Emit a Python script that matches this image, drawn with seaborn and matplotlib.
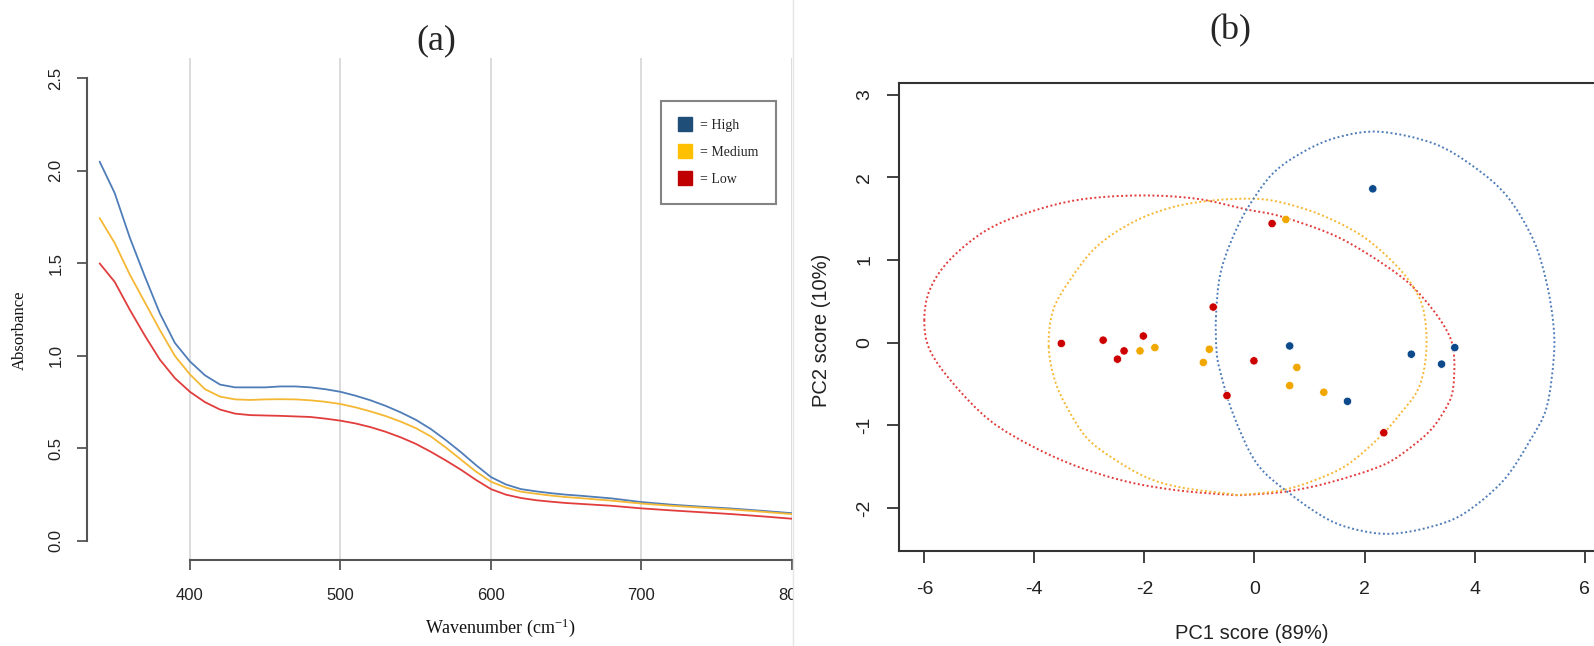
import numpy as np
import pandas as pd
import matplotlib
matplotlib.use("Agg")
import matplotlib.pyplot as plt
import seaborn as sns
from matplotlib.lines import Line2D
from matplotlib.path import Path
from matplotlib.patches import PathPatch
from matplotlib.transforms import Bbox, TransformedBbox

# ---------------- data: panel (a) ----------------
wavenumber = [340, 350, 360, 370, 380, 390, 400, 410, 420, 430, 440, 450, 460, 470, 480, 490,
              500, 510, 520, 530, 540, 550, 560, 570, 580, 590, 600, 610, 620, 630, 640, 650,
              660, 680, 700, 720, 740, 760, 780, 800]
abs_high = [2.05, 1.88, 1.64, 1.43, 1.23, 1.07, 0.97, 0.895, 0.845, 0.83, 0.83, 0.83, 0.835, 0.835,
            0.83, 0.82, 0.806, 0.785, 0.76, 0.73, 0.695, 0.655, 0.605, 0.545, 0.48, 0.41, 0.345,
            0.305, 0.28, 0.268, 0.258, 0.25, 0.244, 0.23, 0.21, 0.196, 0.185, 0.175, 0.163, 0.15]
abs_medium = [1.745, 1.61, 1.44, 1.29, 1.14, 1.00, 0.90, 0.82, 0.78, 0.765, 0.762, 0.765, 0.766,
              0.765, 0.76, 0.752, 0.74, 0.722, 0.70, 0.675, 0.645, 0.61, 0.565, 0.505, 0.44, 0.375,
              0.32, 0.288, 0.266, 0.255, 0.245, 0.237, 0.231, 0.218, 0.202, 0.19, 0.18, 0.17,
              0.158, 0.145]
abs_low = [1.50, 1.40, 1.25, 1.11, 0.98, 0.88, 0.806, 0.75, 0.71, 0.688, 0.68, 0.678, 0.676, 0.673,
           0.67, 0.661, 0.65, 0.635, 0.615, 0.59, 0.56, 0.525, 0.482, 0.435, 0.385, 0.33, 0.28,
           0.25, 0.232, 0.22, 0.212, 0.205, 0.20, 0.19, 0.176, 0.165, 0.155, 0.145, 0.133, 0.12]
groups = ["High", "Medium", "Low"]
legend_labels = ["= High", "= Medium", "= Low"]
a_xticks = [400, 500, 600, 700, 800]
a_yticks = [0.0, 0.5, 1.0, 1.5, 2.0, 2.5]

# ---------------- data: panel (b) ----------------
pc1_high = [2.15, 0.64, 2.85, 3.40, 3.64, 1.69]
pc2_high = [1.86, -0.04, -0.14, -0.26, -0.06, -0.71]
pc1_medium = [0.57, -2.08, -1.81, -0.82, -0.93, 0.77, 0.64, 1.26]
pc2_medium = [1.49, -0.10, -0.06, -0.08, -0.24, -0.30, -0.52, -0.60]
pc1_low = [0.32, -0.75, -3.51, -2.75, -2.02, -2.37, -2.49, -0.01, -0.50, 2.35]
pc2_low = [1.44, 0.43, -0.01, 0.03, 0.08, -0.10, -0.20, -0.22, -0.64, -1.09]

# outlines of the confidence regions (closed: first point repeated at the end)
ell_low_x = [-6.00, -5.90, -5.54, -4.87, -4.08, -3.17, -2.08, -1.05, -0.14, 0.46, 1.37, 2.04, 2.77,
             3.25, 3.55, 3.63, 3.61, 3.52, 3.25, 2.89, 2.34, 1.37, 0.59, -0.14, -0.44, -1.35,
             -2.26, -3.17, -4.02, -4.81, -5.48, -5.90, -6.00]
ell_low_y = [0.27, 0.64, 1.00, 1.36, 1.58, 1.73, 1.78, 1.74, 1.61, 1.53, 1.32, 1.08, 0.74, 0.39,
             0.07, -0.20, -0.55, -0.74, -1.02, -1.24, -1.48, -1.69, -1.80, -1.84, -1.84, -1.79,
             -1.69, -1.51, -1.26, -0.94, -0.49, -0.09, 0.27]
ell_medium_x = [-3.74, -3.66, -3.35, -2.87, -2.20, -1.48, -0.75, -0.05, 0.46, 1.19, 1.98, 2.65,
                3.01, 3.12, 3.10, 2.96, 2.65, 2.28, 1.68, 1.07, 0.46, -0.26, -0.44, -1.35, -1.96,
                -2.57, -3.05, -3.41, -3.63, -3.74]
ell_medium_y = [-0.05, 0.39, 0.76, 1.16, 1.46, 1.64, 1.72, 1.74, 1.70, 1.55, 1.28, 0.88, 0.52,
                0.15, -0.25, -0.58, -0.86, -1.14, -1.48, -1.67, -1.79, -1.84, -1.83, -1.75,
                -1.63, -1.40, -1.15, -0.78, -0.45, -0.05]
ell_high_x = [-0.70, -0.63, -0.44, -0.14, 0.34, 0.95, 1.55, 2.28, 3.25, 3.98, 4.59, 5.07, 5.31,
              5.43, 5.44, 5.31, 5.01, 4.52, 3.80, 3.19, 2.52, 1.98, 1.37, 0.65, 0.04, -0.39,
              -0.63, -0.69, -0.70]
ell_high_y = [0.31, 0.80, 1.20, 1.61, 2.05, 2.33, 2.49, 2.55, 2.41, 2.13, 1.77, 1.24, 0.72, 0.23,
              -0.17, -0.78, -1.18, -1.67, -2.07, -2.23, -2.31, -2.28, -2.15, -1.83, -1.46,
              -0.86, -0.33, -0.09, 0.31]
b_xticks = [-6, -4, -2, 0, 2, 4, 6]
b_yticks = [-2, -1, 0, 1, 2, 3]

# ---------------- styles ----------------
line_colors = {"High": "#4f7db8", "Medium": "#f5b834", "Low": "#e23d3d"}
legend_colors = {"High": "#1f4e79", "Medium": "#ffc000", "Low": "#c00000"}
point_colors = {"High": "#0d4a8c", "Medium": "#f0a800", "Low": "#cc0000"}

sns.set_theme(style="white")
plt.rcParams["font.family"] = ["Liberation Sans", "DejaVu Sans"]
plt.rcParams["mathtext.fontset"] = "custom"
plt.rcParams["mathtext.rm"] = "Liberation Serif"
plt.rcParams["mathtext.it"] = "Liberation Serif:italic"
plt.rcParams["mathtext.bf"] = "Liberation Serif:bold"
SERIF = ["Liberation Serif", "DejaVu Serif"]

W, H = 1594, 646
fig = plt.figure(figsize=(W / 100, H / 100), dpi=100)


def rect(l, t, r, b):
    return [l / W, 1 - b / H, (r - l) / W, (b - t) / H]


def smooth_closed(xs, ys):
    """Closed Catmull-Rom curve through the outline points, as a Bezier path."""
    pts = np.column_stack([xs, ys])[:-1]
    n = len(pts)
    verts = [pts[0]]
    codes = [Path.MOVETO]
    for i in range(n):
        p0, p1, p2, p3 = pts[i - 1], pts[i], pts[(i + 1) % n], pts[(i + 2) % n]
        verts += [p1 + (p2 - p0) / 6.0, p2 - (p3 - p1) / 6.0, p2]
        codes += [Path.CURVE4] * 3
    return Path(np.array(verts), codes)


# ================= panel (a) =================
ax1 = fig.add_axes(rect(87, 58, 792, 560))
df_a = pd.DataFrame({
    "wavenumber": wavenumber * 3,
    "absorbance": abs_high + abs_medium + abs_low,
    "group": ["High"] * len(wavenumber) + ["Medium"] * len(wavenumber) + ["Low"] * len(wavenumber),
})
ax1.xaxis.grid(True, color="#d9d9d9", linewidth=1.3)
ax1.set_axisbelow(True)
sns.lineplot(data=df_a, x="wavenumber", y="absorbance", hue="group", hue_order=groups,
             palette=line_colors, linewidth=1.3, legend=False, ax=ax1, estimator=None)
ax1.set_xlim(331.6, 800)
ax1.set_ylim(-0.103, 2.61)
ax1.set_xticks(a_xticks)
ax1.set_yticks(a_yticks)
ax1.set_yticklabels([f"{v:.1f}" for v in a_yticks], rotation=90, va="center")
for s in ["top", "right"]:
    ax1.spines[s].set_visible(False)
ax1.spines["left"].set_bounds(0, 2.5)
ax1.spines["bottom"].set_bounds(400, 800)
for s in ["left", "bottom"]:
    ax1.spines[s].set_color("#555555")
    ax1.spines[s].set_linewidth(1.5)
ax1.tick_params(axis="both", direction="out", length=7, width=1.3, color="#555555",
                labelsize=12, labelcolor="#222222", pad=10, left=True, bottom=True)
ax1.tick_params(axis="x", pad=13)
ax1.set_xlabel(r"Wavenumber (cm$^{\mathrm{-1}}$)", fontsize=13, family=SERIF, color="#111111")
ax1.set_ylabel("Absorbance", fontsize=12, family=SERIF, color="#111111")
ax1.xaxis.set_label_coords((500 - 87) / 705, -(616 - 560) / 502)
ax1.yaxis.set_label_coords(-(87 - 28) / 705, (560 - 330) / 502)

clip = TransformedBbox(Bbox([[0, 0], [793 / W, 1]]), fig.transFigure)
for lbl in ax1.get_xticklabels():
    lbl.set_clip_on(True)
    lbl.set_clip_box(clip)

handles = [Line2D([], [], marker="s", linestyle="none", markersize=10,
                  markerfacecolor=legend_colors[g], markeredgecolor=legend_colors[g])
           for g in groups]
leg = ax1.legend(handles, legend_labels, loc="upper left",
                 bbox_to_anchor=(661 / W, 1 - 101 / H), bbox_transform=fig.transFigure,
                 prop={"family": SERIF, "size": 10}, frameon=True, fancybox=False,
                 borderpad=1.3, labelspacing=1.0, handlelength=0.9, handletextpad=0.6,
                 borderaxespad=0)
leg.get_frame().set_edgecolor("#666666")
leg.get_frame().set_linewidth(1.5)

# ================= panel (b) =================
ax2 = fig.add_axes(rect(899, 83, 1594, 551))
ells = [(ell_low_x, ell_low_y, "Low"), (ell_medium_x, ell_medium_y, "Medium"),
        (ell_high_x, ell_high_y, "High")]
for ex, ey, g in ells:
    ax2.add_patch(PathPatch(smooth_closed(ex, ey), fill=False, edgecolor=line_colors[g],
                            linestyle=(0, (1.0, 1.3)), linewidth=1.4, transform=ax2.transData))

df_b = pd.DataFrame({
    "pc1": pc1_high + pc1_medium + pc1_low,
    "pc2": pc2_high + pc2_medium + pc2_low,
    "group": ["High"] * len(pc1_high) + ["Medium"] * len(pc1_medium) + ["Low"] * len(pc1_low),
})
sns.scatterplot(data=df_b, x="pc1", y="pc2", hue="group", hue_order=groups,
                palette=point_colors, s=36, edgecolor="white", linewidth=0.5,
                legend=False, ax=ax2, zorder=5)
ax2.set_xlim(-6.46, 6.17)
ax2.set_ylim(-2.52, 3.14)
ax2.set_xticks(b_xticks)
ax2.set_yticks(b_yticks)
ax2.set_xticklabels([f"{v}" for v in b_xticks])
ax2.set_yticklabels([f"{v}" for v in b_yticks], rotation=90, va="center")
ax2.spines["right"].set_visible(False)
for s in ["left", "top", "bottom"]:
    ax2.spines[s].set_color("#333333")
    ax2.spines[s].set_linewidth(1.5)
ax2.tick_params(axis="both", direction="out", length=8.5, width=1.3, color="#333333",
                labelsize=14, labelcolor="#222222", pad=10, left=True, bottom=True)
ax2.tick_params(axis="x", pad=13)
ax2.set_xlabel("PC1 score (89%)", fontsize=14.5, color="#222222")
ax2.set_ylabel("PC2 score (10%)", fontsize=14.5, color="#222222")
ax2.xaxis.set_label_coords((1252 - 899) / 695, -(624 - 551) / 468)
ax2.yaxis.set_label_coords(-(899 - 831) / 695, (551 - 330) / 468)

# ---------------- titles and separator ----------------
fig.text(436 / W, 1 - 41 / H, "(a)", ha="center", va="center", fontsize=26, family=SERIF)
fig.text(1230 / W, 1 - 31 / H, "(b)", ha="center", va="center", fontsize=26, family=SERIF)
fig.add_artist(Line2D([793 / W, 793 / W], [0, 1], transform=fig.transFigure,
                      color="#e4e4e4", linewidth=1.0))

fig.savefig("out.png", dpi=100)
